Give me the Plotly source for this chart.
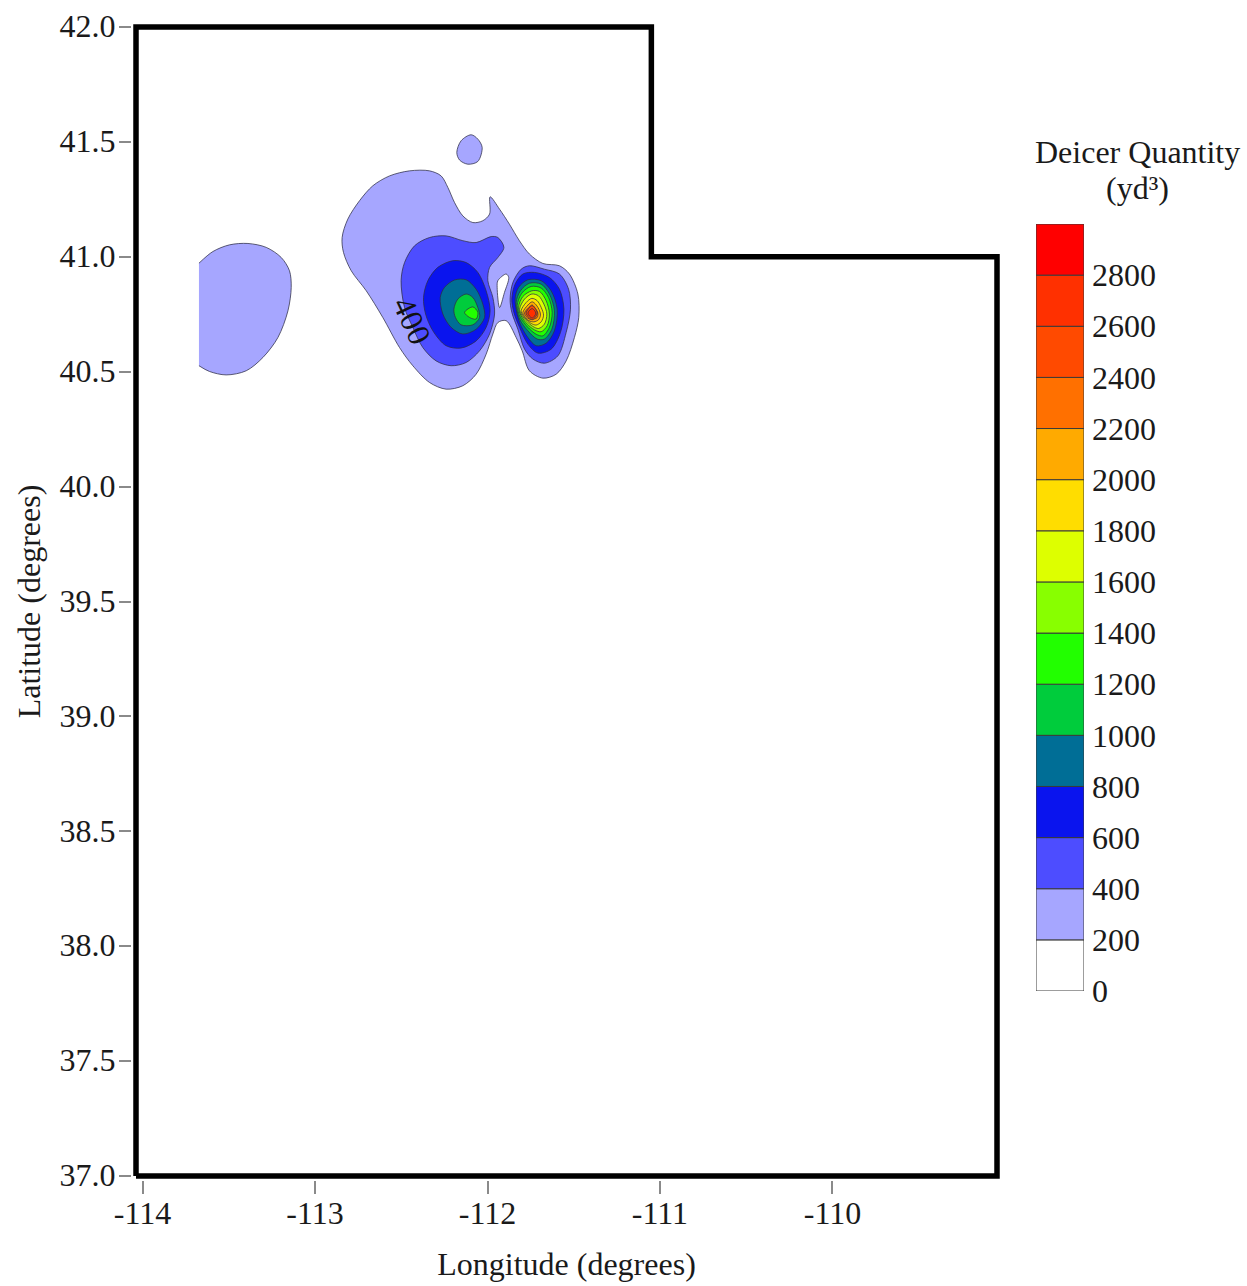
import plotly.graph_objects as go

FONT = "Liberation Serif"
INK = "#1a1a1a"

# colour bar
levels = [0, 200, 400, 600, 800, 1000, 1200, 1400, 1600, 1800, 2000, 2200, 2400, 2600, 2800]
band_colors = ["#FFFFFF", "#A6A6FF", "#4D4DFF", "#0A14EE", "#006E96", "#00CC3C", "#22FF00", "#88FF00",
               "#DDFF00", "#FFDD00", "#FFAA00", "#FF7000", "#FF4A00", "#FF3000", "#FF0000"]
COLOR = dict(zip(levels, band_colors))

# state outline
utah_lon = [-114.038, -114.038, -111.05, -111.05, -109.046, -109.046, -114.038]
utah_lat = [37.0, 42.0, 42.0, 41.0, 41.0, 37.0, 37.0]

x_ticks = [-114, -113, -112, -111, -110]
y_ticks = [37, 37.5, 38, 38.5, 39, 39.5, 40, 40.5, 41, 41.5, 42]

# contour bands: (lower level, [[lon, lat], ...]) in drawing order
west_200 = [[-113.673, 40.972], [-113.592, 41.023], [-113.496, 41.052], [-113.389, 41.058], [-113.283, 41.041],
            [-113.196, 40.997], [-113.148, 40.939], [-113.138, 40.867], [-113.157, 40.765], [-113.215, 40.649],
            [-113.302, 40.562], [-113.399, 40.504], [-113.515, 40.486], [-113.612, 40.501], [-113.673, 40.526]]
island_200 = [[-112.178, 41.454], [-112.153, 41.505], [-112.095, 41.531], [-112.056, 41.512], [-112.031, 41.476],
              [-112.056, 41.415], [-112.114, 41.403], [-112.162, 41.421], [-112.178, 41.454]]
main_200 = [[-112.843, 41.084], [-112.810, 41.164], [-112.742, 41.244], [-112.665, 41.309], [-112.568, 41.352],
            [-112.452, 41.374], [-112.336, 41.374], [-112.269, 41.352], [-112.230, 41.302], [-112.191, 41.236],
            [-112.143, 41.178], [-112.085, 41.149], [-112.027, 41.157], [-111.988, 41.186], [-111.985, 41.261],
            [-111.930, 41.207], [-111.873, 41.142], [-111.815, 41.070], [-111.757, 41.012], [-111.679, 40.971],
            [-111.583, 40.961], [-111.525, 40.925], [-111.476, 40.838], [-111.471, 40.736], [-111.496, 40.649],
            [-111.544, 40.547], [-111.602, 40.489], [-111.679, 40.472], [-111.757, 40.504], [-111.799, 40.591],
            [-111.834, 40.649], [-111.892, 40.722], [-111.940, 40.714], [-111.969, 40.664], [-112.008, 40.576],
            [-112.066, 40.489], [-112.143, 40.439], [-112.240, 40.424], [-112.336, 40.453], [-112.433, 40.526],
            [-112.510, 40.605], [-112.607, 40.736], [-112.703, 40.852], [-112.790, 40.939], [-112.835, 41.019],
            [-112.843, 41.084]]
hole_0 = [[-111.940, 40.896], [-111.892, 40.925], [-111.877, 40.910], [-111.902, 40.844], [-111.930, 40.779],
          [-111.944, 40.867], [-111.940, 40.896]]
west_peak_400 = [[-112.501, 40.896], [-112.481, 40.975], [-112.423, 41.048], [-112.336, 41.084], [-112.240, 41.091],
                 [-112.143, 41.070], [-112.066, 41.062], [-111.979, 41.088], [-111.940, 41.084], [-111.905, 41.041],
                 [-111.940, 40.997], [-111.988, 40.954], [-111.998, 40.896], [-111.969, 40.823], [-111.959, 40.751],
                 [-111.988, 40.664], [-112.046, 40.591], [-112.124, 40.540], [-112.211, 40.526], [-112.298, 40.547],
                 [-112.375, 40.605], [-112.433, 40.693], [-112.481, 40.779], [-112.501, 40.896]]
west_peak_600 = [[-112.371, 40.823], [-112.346, 40.896], [-112.288, 40.954], [-112.201, 40.983], [-112.124, 40.975],
                 [-112.056, 40.932], [-112.008, 40.852], [-111.985, 40.765], [-112.008, 40.693], [-112.066, 40.634],
                 [-112.153, 40.603], [-112.240, 40.613], [-112.317, 40.678], [-112.359, 40.751], [-112.371, 40.823]]
west_peak_800 = [[-112.274, 40.823], [-112.249, 40.867], [-112.191, 40.899], [-112.124, 40.900], [-112.066, 40.859],
                 [-112.027, 40.794], [-112.017, 40.736], [-112.066, 40.685], [-112.143, 40.664], [-112.211, 40.693],
                 [-112.259, 40.751], [-112.274, 40.823]]
west_peak_1000 = [[-112.195, 40.772], [-112.172, 40.816], [-112.124, 40.838], [-112.085, 40.823], [-112.056, 40.779],
                  [-112.046, 40.736], [-112.085, 40.704], [-112.153, 40.704], [-112.186, 40.736], [-112.195, 40.772]]
west_peak_1200 = [[-112.133, 40.758], [-112.085, 40.782], [-112.056, 40.758], [-112.066, 40.729], [-112.104, 40.736],
                  [-112.133, 40.758]]
east_peak_400 = [[-111.869, 40.816], [-111.853, 40.888], [-111.805, 40.946], [-111.757, 40.961], [-111.670, 40.946],
                 [-111.583, 40.925], [-111.530, 40.859], [-111.519, 40.772], [-111.544, 40.671], [-111.592, 40.569],
                 [-111.670, 40.537], [-111.737, 40.555], [-111.785, 40.598], [-111.824, 40.685], [-111.859, 40.758],
                 [-111.869, 40.816]]
east_peak_600 = [[-111.859, 40.816], [-111.840, 40.881], [-111.795, 40.925], [-111.727, 40.932], [-111.641, 40.910],
                 [-111.583, 40.859], [-111.557, 40.772], [-111.577, 40.671], [-111.631, 40.598], [-111.708, 40.581],
                 [-111.766, 40.620], [-111.814, 40.693], [-111.847, 40.758], [-111.859, 40.816]]
east_peak_800 = [[-111.840, 40.816], [-111.820, 40.867], [-111.766, 40.900], [-111.689, 40.896], [-111.631, 40.852],
                 [-111.596, 40.772], [-111.612, 40.678], [-111.660, 40.624], [-111.718, 40.613], [-111.766, 40.649],
                 [-111.814, 40.714], [-111.840, 40.816]]
east_peak_1000 = [[-111.834, 40.801], [-111.809, 40.852], [-111.757, 40.885], [-111.689, 40.881], [-111.641, 40.838],
                  [-111.612, 40.765], [-111.627, 40.685], [-111.670, 40.642], [-111.712, 40.642], [-111.766, 40.678],
                  [-111.814, 40.729], [-111.834, 40.801]]
east_peak_1200 = [[-111.828, 40.787], [-111.801, 40.842], [-111.747, 40.871], [-111.689, 40.864], [-111.646, 40.823],
                  [-111.625, 40.758], [-111.641, 40.693], [-111.679, 40.656], [-111.718, 40.663], [-111.766, 40.693],
                  [-111.809, 40.736], [-111.828, 40.787]]
east_peak_1400 = [[-111.820, 40.780], [-111.795, 40.827], [-111.743, 40.852], [-111.698, 40.849], [-111.660, 40.809],
                  [-111.641, 40.751], [-111.654, 40.700], [-111.689, 40.674], [-111.727, 40.682], [-111.770, 40.707],
                  [-111.805, 40.743], [-111.820, 40.780]]
east_peak_1600 = [[-111.814, 40.772], [-111.785, 40.816], [-111.743, 40.838], [-111.704, 40.830], [-111.673, 40.794],
                  [-111.656, 40.751], [-111.670, 40.707], [-111.704, 40.688], [-111.737, 40.697], [-111.776, 40.722],
                  [-111.801, 40.746], [-111.814, 40.772]]
east_peak_1800 = [[-111.805, 40.765], [-111.776, 40.801], [-111.743, 40.819], [-111.712, 40.809], [-111.689, 40.780],
                  [-111.675, 40.746], [-111.689, 40.717], [-111.718, 40.703], [-111.747, 40.710], [-111.776, 40.729],
                  [-111.795, 40.746], [-111.805, 40.765]]
east_peak_2000 = [[-111.795, 40.758], [-111.766, 40.790], [-111.741, 40.804], [-111.718, 40.791], [-111.698, 40.765],
                  [-111.693, 40.746], [-111.704, 40.726], [-111.731, 40.717], [-111.760, 40.722], [-111.785, 40.740],
                  [-111.795, 40.758]]
east_peak_2200 = [[-111.785, 40.755], [-111.760, 40.780], [-111.741, 40.790], [-111.722, 40.775], [-111.708, 40.755],
                  [-111.712, 40.736], [-111.731, 40.729], [-111.757, 40.729], [-111.776, 40.740], [-111.785, 40.755]]
east_peak_2400 = [[-111.776, 40.755], [-111.741, 40.787], [-111.712, 40.755], [-111.741, 40.726], [-111.776, 40.755]]
east_peak_2600 = [[-111.766, 40.755], [-111.741, 40.775], [-111.720, 40.755], [-111.741, 40.733], [-111.766, 40.755]]

bands = [
    (200, west_200), (200, island_200), (200, main_200), (0, hole_0),
    (400, west_peak_400), (600, west_peak_600), (800, west_peak_800), (1000, west_peak_1000), (1200, west_peak_1200),
    (400, east_peak_400), (600, east_peak_600), (800, east_peak_800), (1000, east_peak_1000), (1200, east_peak_1200),
    (1400, east_peak_1400), (1600, east_peak_1600), (1800, east_peak_1800), (2000, east_peak_2000),
    (2200, east_peak_2200), (2400, east_peak_2400), (2600, east_peak_2600),
]

fig = go.Figure()

for level, pts in bands:
    fig.add_trace(go.Scatter(
        x=[p[0] for p in pts], y=[p[1] for p in pts], mode="lines", fill="toself",
        fillcolor=COLOR[level], line=dict(color="rgba(45,45,70,0.75)", width=1, shape="spline", smoothing=0.9),
        hoverinfo="skip", showlegend=False, xaxis="x", yaxis="y"))

fig.add_trace(go.Scatter(x=utah_lon, y=utah_lat, mode="lines", line=dict(color="#000000", width=5.5),
                         hoverinfo="skip", showlegend=False, xaxis="x", yaxis="y"))

fig.add_trace(go.Bar(x=[0] * len(levels), y=[200] * len(levels), base=levels, width=1,
                     marker=dict(color=band_colors, line=dict(color="#3a3a3a", width=1)),
                     hoverinfo="skip", showlegend=False, xaxis="x2", yaxis="y2"))

W, H = 1247, 1286
fig.update_layout(
    width=W, height=H, autosize=False, margin=dict(l=0, r=0, t=0, b=0),
    paper_bgcolor="white", plot_bgcolor="white", barmode="overlay",
    font=dict(family=FONT, size=32, color=INK),
    xaxis=dict(domain=[132 / W, 1001 / W], range=[-114.0612, -109.0228], tickvals=x_ticks, ticktext=[str(v) for v in x_ticks],
               ticks="outside", ticklen=13, tickwidth=1.5, tickcolor="#8a8a8a", showgrid=False, zeroline=False,
               showline=False, ticklabelstandoff=-8, tickfont=dict(size=32), automargin=False,
               title=dict(text="Longitude (degrees)", font=dict(size=32), standoff=22)),
    yaxis=dict(domain=[(H - 1180) / H, (H - 23) / H], range=[36.9826, 42.0174], tickvals=y_ticks,
               ticktext=[f"{v:.1f}" for v in y_ticks], ticks="outside", ticklen=12, tickwidth=1.5, tickcolor="#8a8a8a",
               showgrid=False, zeroline=False, showline=False, tickfont=dict(size=32), automargin=False,
               ticklabelstandoff=-3, ticklabelshift=-1,
               title=dict(text="Latitude (degrees)", font=dict(size=32), standoff=9)),
    xaxis2=dict(domain=[1036 / W, 1084 / W], range=[-0.5, 0.5], visible=False, anchor="y2"),
    yaxis2=dict(domain=[(H - 991) / H, (H - 224) / H], range=[0, 3000], side="right", anchor="x2",
                tickvals=levels, ticks="", showgrid=False, zeroline=False, showline=False,
                ticklabelstandoff=7, tickfont=dict(size=32), automargin=False),
    annotations=[
        dict(text="400", x=-112.436, y=40.721, xref="x", yref="y", showarrow=False, textangle=65,
             font=dict(size=32, color="#111111")),
        dict(text="Deicer Quantity", x=1137 / W, y=(H - 152) / H, xref="paper", yref="paper", showarrow=False,
             xanchor="center", yanchor="middle", font=dict(size=32)),
        dict(text="(yd³)", x=1137 / W, y=(H - 188) / H, xref="paper", yref="paper", showarrow=False,
             xanchor="center", yanchor="middle", font=dict(size=32)),
    ],
)

fig.write_html("out.html", config={"displayModeBar": False},
               post_script="document.body.style.margin='0';document.body.style.overflow='hidden';")
